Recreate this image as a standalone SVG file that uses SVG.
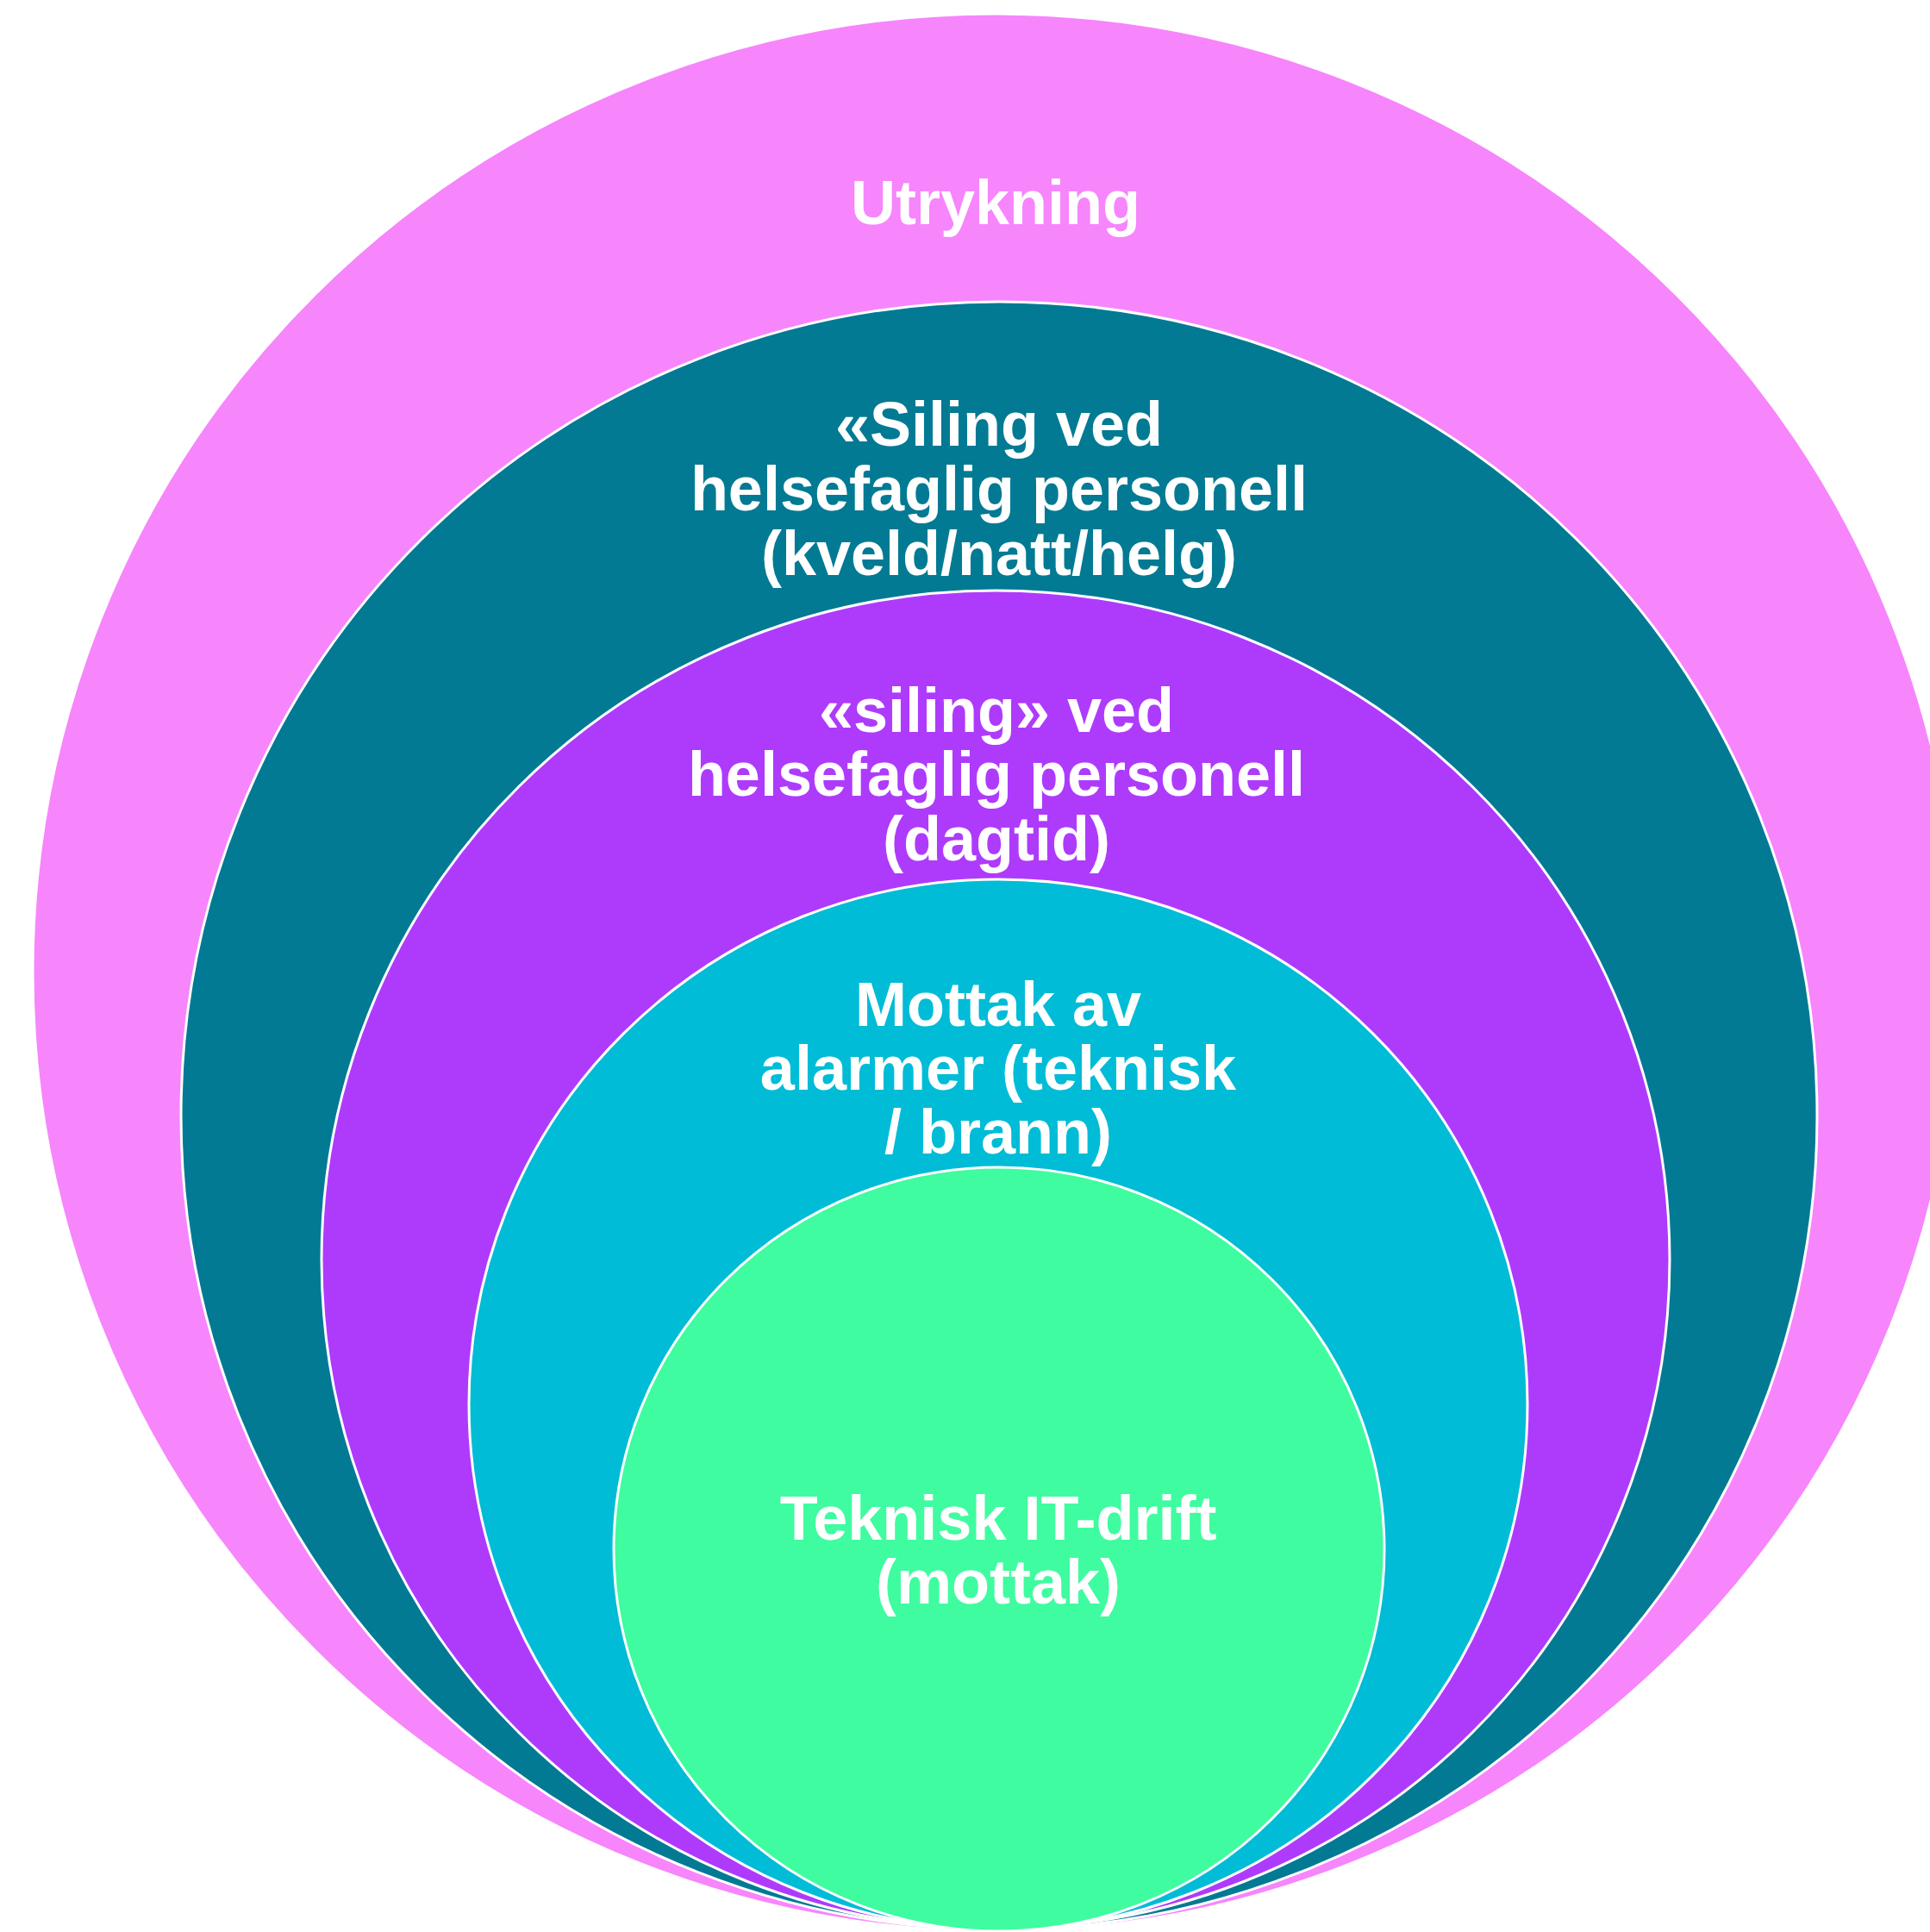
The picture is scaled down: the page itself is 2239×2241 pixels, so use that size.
<svg xmlns="http://www.w3.org/2000/svg" width="2239" height="2241" viewBox="0 0 2239 2241">
  <style>
    .ring { stroke: #ffffff; stroke-width: 3; }
    .lbl { font-family: "Liberation Sans", Arial, sans-serif; font-weight: bold; font-size: 72px; fill: #ffffff; text-anchor: middle; }
  </style>
  <rect width="2239" height="2241" fill="#ffffff"/>
  <g id="node-utrykning">
    <ellipse class="ring" cx="1155" cy="1128" rx="1117" ry="1112" fill="#F785FC" stroke="none"/>
    <text class="lbl" x="1155" y="260">Utrykning</text>
  </g>
  <g id="node-siling-kveld">
    <ellipse class="ring" cx="1159" cy="1294" rx="949" ry="944" fill="#027A93"/>
    <text class="lbl" x="1159" y="517">«Siling ved</text>
    <text class="lbl" x="1159" y="592">helsefaglig personell</text>
    <text class="lbl" x="1159" y="667">(kveld/natt/helg)</text>
  </g>
  <g id="node-siling-dag">
    <ellipse class="ring" cx="1155" cy="1461" rx="782" ry="776" fill="#AE3BFC"/>
    <text class="lbl" x="1156" y="849">«siling» ved</text>
    <text class="lbl" x="1156" y="923">helsefaglig personell</text>
    <text class="lbl" x="1156" y="998">(dagtid)</text>
  </g>
  <g id="node-mottak-alarmer">
    <ellipse class="ring" cx="1158" cy="1629" rx="614" ry="609" fill="#00BCD6"/>
    <text class="lbl" x="1158" y="1190">Mottak av</text>
    <text class="lbl" x="1158" y="1264">alarmer (teknisk</text>
    <text class="lbl" x="1158" y="1338">/ brann)</text>
  </g>
  <g id="node-teknisk-it">
    <ellipse class="ring" cx="1159" cy="1797" rx="447" ry="443" fill="#3FFCA0"/>
    <text class="lbl" x="1158" y="1786">Teknisk IT-drift</text>
    <text class="lbl" x="1158" y="1860">(mottak)</text>
  </g>
  <g id="connectors"/>
</svg>
